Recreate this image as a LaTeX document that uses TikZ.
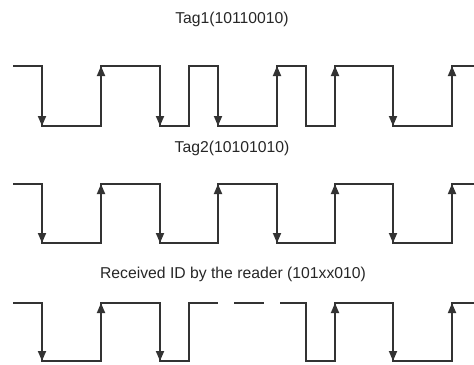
\documentclass[tikz,border=0pt]{standalone}
\usepackage{fontspec}
\setmainfont{Liberation Sans}
\usepackage{tikz}
\usetikzlibrary{arrows.meta}

\begin{document}
\begin{tikzpicture}[x=0.75pt, y=-0.75pt, line width=1.3pt,
    wave/.style={black!80, line join=miter},
    edge/.style={black!80, -{Triangle[length=7.5pt, width=6pt]}},
    title/.style={black!85, font=\fontsize{11.8}{13}\selectfont}]
        \useasboundingbox (0,0) rectangle (474,364);

        % Tag1 (10110010)
        \node[title] (tag1) at (232,19) {Tag1(10110010)};
        \draw[wave] (13,66) -- (42,66) -- (42,126) -- (101,126) -- (101,66) -- (160,66) -- (160,126)
            -- (189,126) -- (189,66) -- (218,66) -- (218,126) -- (277,126) -- (277,66) -- (306,66)
            -- (306,126) -- (335,126) -- (335,66) -- (393,66) -- (393,126) -- (452,126) -- (452,66) -- (474,66);
        % Flanken in der Bitmitte
        \draw[edge] (42,66) -- (42,126);
        \draw[edge] (101,126) -- (101,66);
        \draw[edge] (160,66) -- (160,126);
        \draw[edge] (218,66) -- (218,126);
        \draw[edge] (277,126) -- (277,66);
        \draw[edge] (335,126) -- (335,66);
        \draw[edge] (393,66) -- (393,126);
        \draw[edge] (452,126) -- (452,66);

        % Tag2 (10101010)
        \node[title] (tag2) at (232,148) {Tag2(10101010)};
        \draw[wave] (13,184) -- (42,184) -- (42,243) -- (101,243) -- (101,184) -- (160,184) -- (160,243)
            -- (218,243) -- (218,184) -- (277,184) -- (277,243) -- (335,243) -- (335,184) -- (393,184)
            -- (393,243) -- (452,243) -- (452,184) -- (474,184);
        \draw[edge] (42,184) -- (42,243);
        \draw[edge] (101,243) -- (101,184);
        \draw[edge] (160,184) -- (160,243);
        \draw[edge] (218,243) -- (218,184);
        \draw[edge] (277,184) -- (277,243);
        \draw[edge] (335,243) -- (335,184);
        \draw[edge] (393,184) -- (393,243);
        \draw[edge] (452,243) -- (452,184);

        % Empfangenes Signal: Bits 4 und 5 kollidieren
        \node[title] (rx) at (233,274) {Received ID by the reader (101xx010)};
        \draw[wave] (13,303) -- (42,303) -- (42,361) -- (101,361) -- (101,303) -- (160,303) -- (160,361)
            -- (189,361) -- (189,303) -- (218,303);
        \draw[wave] (234,303) -- (264,303);
        \draw[wave] (280,303) -- (306,303) -- (306,361) -- (335,361) -- (335,303) -- (393,303)
            -- (393,361) -- (452,361) -- (452,303) -- (474,303);
        \draw[edge] (42,303) -- (42,361);
        \draw[edge] (101,361) -- (101,303);
        \draw[edge] (160,303) -- (160,361);
        \draw[edge] (335,361) -- (335,303);
        \draw[edge] (393,303) -- (393,361);
        \draw[edge] (452,361) -- (452,303);
    \end{tikzpicture}
\end{document}
